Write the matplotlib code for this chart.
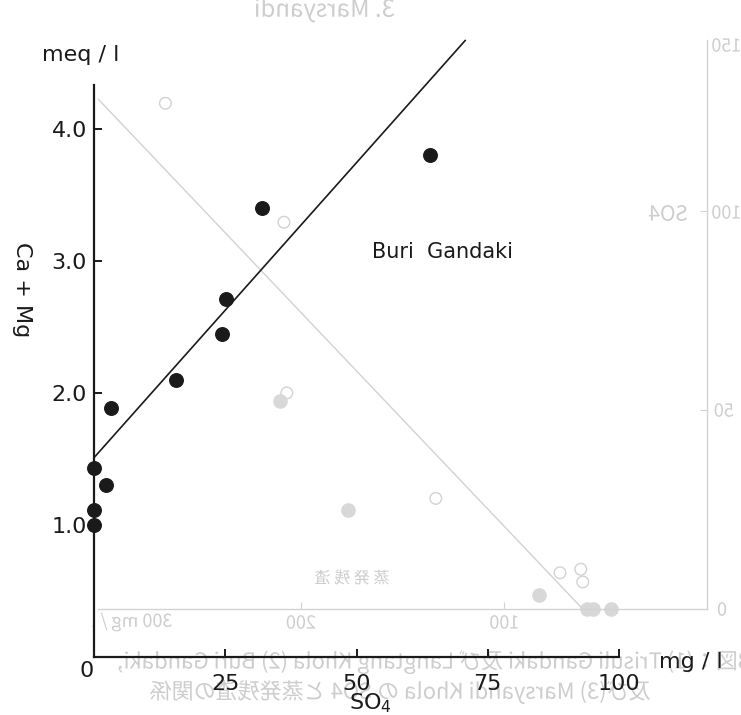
import matplotlib
matplotlib.use('Agg')
import matplotlib.pyplot as plt
from matplotlib.textpath import TextPath
from matplotlib.patches import PathPatch
from matplotlib.font_manager import FontProperties
from matplotlib.transforms import Affine2D, IdentityTransform

plt.rcParams['font.family'] = ['DejaVu Sans']
plt.rcParams['mathtext.fontset'] = 'dejavusans'

# Buri Gandaki: SO4 (mg/l) vs Ca + Mg (meq/l)
so4 = [64.0, 32.0, 25.1, 24.4, 15.6, 3.2, 0.0, 2.3, 0.0, 0.0]
ca_mg = [3.80, 3.40, 2.71, 2.45, 2.10, 1.89, 1.43, 1.30, 1.11, 1.00]

# regression line
line_x = [0.0, 70.7]
intercept = 1.51
slope = 0.0447

x_ticks = [25, 50, 75, 100]
x_ticklabels = ['25', '50', '75', '100']
y_ticks = [1.0, 2.0, 3.0, 4.0]
y_ticklabels = ['1.0', '2.0', '3.0', '4.0']

# 裏写り (the page behind shows through, mirrored)
ghost_so4_open = [266.8, 208.4, 207.0, 133.6, 72.4, 62.2, 61.2]
ghost_res_open = [127.1, 97.2, 54.3, 27.8, 9.1, 10.0, 6.8]
ghost_so4_fill = [210.4, 177.0, 82.6, 59.3, 56.0, 47.4]
ghost_res_fill = [52.3, 24.9, 3.4, 0.0, 0.0, 0.0]
ghost_line_x = [301.5, 61.2]
ghost_line_y = [129.0, 0.0]

W, H = 741, 715
fig = plt.figure(figsize=(W / 100, H / 100), dpi=100)

ghost = '#d2d2d2'

# --- ghost chart (mirrored) ---
gax = fig.add_axes([98 / W, (H - 609) / H, (707 - 98) / W, (609 - 40) / H], zorder=-2)
gax.set_xlim(300, 0)
gax.set_ylim(0, 143)
gax.patch.set_visible(False)
for s in ['top', 'left']:
    gax.spines[s].set_visible(False)
for s in ['bottom', 'right']:
    gax.spines[s].set_color(ghost)
    gax.spines[s].set_linewidth(1.0)
gax.yaxis.tick_right()
gax.set_xticks([100, 200])
gax.set_yticks([50, 100])
gax.tick_params(direction='in', length=5, color=ghost, labelbottom=False, labelright=False)
gax.plot(ghost_line_x, ghost_line_y, color=ghost, lw=1.0)
gax.scatter(ghost_so4_open, ghost_res_open, s=70, facecolors='none', edgecolors=ghost, lw=1.0, clip_on=False)
gax.scatter(ghost_so4_fill, ghost_res_fill, s=90, color='#d8d8d8', clip_on=False)


def ghost_text(px, py, s, size, color='#cdcdcd'):
    tp = TextPath((0, 0), s, size=size, prop=FontProperties(family='Noto Sans CJK JP'))
    bb = tp.get_extents()
    tr = (Affine2D().translate(-bb.x0 - bb.width / 2, -bb.y0 - bb.height / 2)
          .scale(-1, 1).translate(px, H - py))
    p = PathPatch(tr.transform_path(tp), facecolor=color, edgecolor='none',
                  transform=IdentityTransform(), zorder=-3)
    fig.add_artist(p)


ghost_text(325, 10, '3. Marsyandi', 24)
ghost_text(668, 213, 'SO4', 21)
ghost_text(352, 577, '蒸 発 残 渣', 16)
ghost_text(132, 622, '300 mg / l', 18)
ghost_text(301, 622, '200', 18)
ghost_text(504, 622, '100', 18)
ghost_text(722, 609, '0', 18)
ghost_text(724, 410, '50', 18)
ghost_text(726, 212, '100', 18)
ghost_text(726, 45, '150', 18)
ghost_text(445, 662, '第8図：(1) Trisuli Gandaki 及び Langtang Khola (2) Buri Gandaki,', 22)
ghost_text(400, 692, '及び(3) Marsyandi Khola の SO4 と蒸発残渣の関係', 22)

# --- main chart ---
ax = fig.add_axes([94 / W, (H - 657) / H, (619 - 94) / W, (657 - 40) / H])
ax.patch.set_visible(False)
ax.set_xlim(0, 100)
ax.set_ylim(0, 617 / 132)

ax.scatter(so4, ca_mg, s=95, color='#1a1a1a', zorder=3, clip_on=False)
line_y = [intercept + slope * x for x in line_x]
ax.plot(line_x, line_y, color='#1a1a1a', lw=1.2, clip_on=False)

ax.spines['top'].set_visible(False)
ax.spines['right'].set_visible(False)
ax.spines['left'].set_bounds(0, 4.33)
ax.spines['bottom'].set_bounds(0, 100)
for s in ['left', 'bottom']:
    ax.spines[s].set_linewidth(1.6)
    ax.spines[s].set_color('#1a1a1a')

ax.set_xticks(x_ticks)
ax.set_xticklabels(x_ticklabels)
ax.set_yticks(y_ticks)
ax.set_yticklabels(y_ticklabels)
ax.tick_params(direction='in', length=6, width=1.4, color='#1a1a1a',
               labelsize=16, labelcolor='#1a1a1a')
ax.tick_params(axis='x', pad=12)
ax.tick_params(axis='y', pad=5)

ax.annotate('0', xy=(0, 0), xytext=(-7, -14), textcoords='offset pixels',
            ha='center', va='center', fontsize=16, color='#1a1a1a')
ax.annotate('mg / l', xy=(100, 0), xytext=(72, -5), textcoords='offset pixels',
            ha='center', va='center', fontsize=16, color='#1a1a1a')

fig.text(81 / W, 1 - 55 / H, 'meq / l', ha='center', va='center', fontsize=16, color='#1a1a1a')
fig.text(22 / W, 1 - 290 / H, 'Ca + Mg', ha='center', va='center', rotation=-90,
         fontsize=16, color='#1a1a1a')
fig.text(370 / W, 1 - 703 / H, 'SO$_4$', ha='center', va='center', fontsize=16, color='#1a1a1a')
fig.text(443 / W, 1 - 252 / H, 'Buri  Gandaki', fontsize=15,
         color='#1a1a1a', ha='center', va='center')

fig.savefig('out.png', dpi=100)
